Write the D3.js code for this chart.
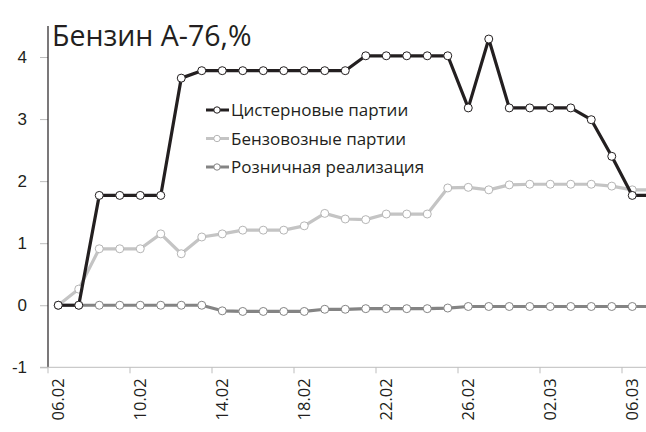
<!DOCTYPE html>
<html>
<head>
<meta charset="utf-8">
<script src="https://cdn.jsdelivr.net/npm/d3@7"></script>
<style>
  body { margin: 0; background: #fff; }
  svg { display: block; font-family: "Open Sans", sans-serif; }
</style>
</head>
<body>
<svg id="chart" width="646" height="432"></svg>
<script>
var dates = ["06.02","07.02","08.02","09.02","10.02","11.02","12.02","13.02","14.02","15.02",
             "16.02","17.02","18.02","19.02","20.02","21.02","22.02","23.02","24.02","25.02",
             "26.02","27.02","28.02","01.03","02.03","03.03","04.03","05.03","06.03","07.03"];

var tankValues = [0, 0, 1.77, 1.77, 1.77, 1.77, 3.66, 3.78, 3.78, 3.78,
                  3.78, 3.78, 3.78, 3.78, 3.78, 4.02, 4.02, 4.02, 4.02, 4.02,
                  3.18, 4.29, 3.18, 3.18, 3.18, 3.18, 2.99, 2.40, 1.77, 1.77];

var truckValues = [0, 0.26, 0.91, 0.91, 0.91, 1.15, 0.83, 1.10, 1.15, 1.21,
                   1.21, 1.21, 1.28, 1.48, 1.39, 1.38, 1.47, 1.47, 1.47, 1.89,
                   1.90, 1.86, 1.94, 1.95, 1.95, 1.95, 1.95, 1.92, 1.86, 1.86];

var retailValues = [0, 0, 0, 0, 0, 0, 0, 0, -0.09, -0.10,
                    -0.10, -0.10, -0.10, -0.065, -0.065, -0.055, -0.055, -0.055, -0.055, -0.045,
                    -0.02, -0.02, -0.02, -0.02, -0.02, -0.02, -0.02, -0.02, -0.02, -0.02];

var seriesNames = ["Цистерновые партии", "Бензовозные партии", "Розничная реализация"];
var seriesColors = ["#231f20", "#c4c4c4", "#848484"];
var yTicks = [-1, 0, 1, 2, 3, 4];
var xTickLabels = ["06.02","10.02","14.02","18.02","22.02","26.02","02.03","06.03"];
var title = "Бензин А-76,%";

var series = [tankValues, truckValues, retailValues];

var svg = d3.select("#chart");

var x = d3.scaleBand()
    .domain(dates)
    .range([48, 48 + dates.length * 20.5]);

var y = d3.scaleLinear()
    .domain([-1, 4.5])
    .range([367.3, 26]);

// y axis: gray ticks on the left, dark line
var yAxis = svg.append("g")
    .attr("transform", "translate(48,0)")
    .call(d3.axisLeft(y).tickValues(yTicks).tickSize(8).tickPadding(13)
      .tickFormat(function(d) { return String(d); }));
yAxis.select(".domain").remove();
yAxis.selectAll(".tick line").attr("stroke", "#bdbdbd");
yAxis.selectAll(".tick text")
    .attr("fill", "#231f20")
    .style("font-size", "17px");

svg.append("line")
    .attr("x1", 48).attr("x2", 48)
    .attr("y1", 26).attr("y2", y(-1))
    .attr("stroke", "#231f20")
    .attr("stroke-width", 1.2);

// x axis: ticks between categories, every 4th
var xg = svg.append("g");
xg.append("line")
    .attr("x1", 40).attr("x2", 646)
    .attr("y1", y(-1)).attr("y2", y(-1))
    .attr("stroke", "#bdbdbd");

xg.selectAll(".xtick")
    .data(xTickLabels)
  .enter().append("line")
    .attr("class", "xtick")
    .attr("x1", function(d) { return x(d); })
    .attr("x2", function(d) { return x(d); })
    .attr("y1", y(-1))
    .attr("y2", y(-1) + 6)
    .attr("stroke", "#bdbdbd");

xg.selectAll(".xlabel")
    .data(xTickLabels)
  .enter().append("text")
    .attr("class", "xlabel")
    .attr("transform", function(d) {
      return "translate(" + (x(d) + x.bandwidth() / 2 + 5.5) + "," + (y(-1) + 11) + ") rotate(-90)";
    })
    .style("text-anchor", "end")
    .style("font-size", "16.5px")
    .attr("fill", "#231f20")
    .text(function(d) { return d; });

// title
svg.append("text")
    .attr("x", 52)
    .attr("y", 46)
    .style("font-size", "28.5px")
    .attr("fill", "#231f20")
    .text(title);

// lines
var line = d3.line()
    .x(function(d, i) { return x(dates[i]) + x.bandwidth() / 2; })
    .y(function(d) { return y(d); });

var order = [1, 2, 0]; // black drawn on top
order.forEach(function(s) {
  var g = svg.append("g").attr("class", "series");
  g.append("path")
      .datum(series[s])
      .attr("fill", "none")
      .attr("stroke", seriesColors[s])
      .attr("stroke-width", 3.2)
      .attr("stroke-linejoin", "round")
      .attr("d", line);
  g.selectAll("circle")
      .data(series[s])
    .enter().append("circle")
      .attr("cx", function(d, i) { return x(dates[i]) + x.bandwidth() / 2; })
      .attr("cy", function(d) { return y(d); })
      .attr("r", 4)
      .attr("fill", "#fff")
      .attr("stroke", s === 1 ? "#b5b5b5" : seriesColors[s])
      .attr("stroke-width", 1);
});

// legend
var legend = svg.append("g");
seriesNames.forEach(function(name, i) {
  var ly = 110 + i * 28.5;
  legend.append("line")
      .attr("x1", 206).attr("x2", 229)
      .attr("y1", ly).attr("y2", ly)
      .attr("stroke", seriesColors[i])
      .attr("stroke-width", 3);
  legend.append("circle")
      .attr("cx", 217).attr("cy", ly)
      .attr("r", 3.2)
      .attr("fill", "#fff")
      .attr("stroke", i === 1 ? "#b5b5b5" : seriesColors[i])
      .attr("stroke-width", 1);
  legend.append("text")
      .attr("x", 231)
      .attr("y", ly + 6)
      .style("font-size", "17px")
      .attr("fill", "#231f20")
      .text(name);
});
</script>
</body>
</html>
